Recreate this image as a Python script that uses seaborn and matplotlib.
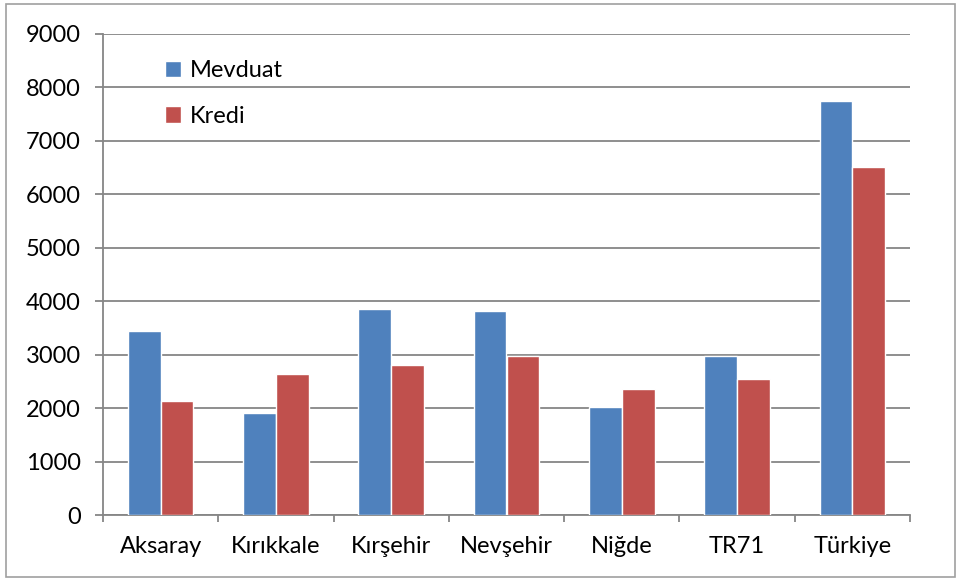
import pandas as pd
import numpy as np
import matplotlib.pyplot as plt
import seaborn as sns
from matplotlib.patches import Rectangle

# values
regions = ['Aksaray', 'Kırıkkale', 'Kırşehir', 'Nevşehir', 'Niğde', 'TR71', 'Türkiye']
mevduat = [3440, 1900, 3855, 3820, 2030, 2970, 7755]
kredi = [2130, 2635, 2800, 2975, 2355, 2540, 6510]
series = ['Mevduat', 'Kredi']
colors = ['#4F81BD', '#C0504D']

df = pd.DataFrame({
    'Bölge': regions * 2,
    'Seri': ['Mevduat'] * len(regions) + ['Kredi'] * len(regions),
    'Değer': mevduat + kredi,
})

sns.set_style("white")
plt.rcParams['font.family'] = ['Lato', 'DejaVu Sans']
plt.rcParams['text.color'] = 'black'
plt.rcParams['xtick.labelcolor'] = 'black'
plt.rcParams['ytick.labelcolor'] = 'black'

fig = plt.figure(figsize=(9.61, 5.80), dpi=100)
ax = fig.add_axes([103 / 961, 1 - 515 / 580, 807 / 961, 481 / 580])

sns.barplot(data=df, x='Bölge', y='Değer', hue='Seri', hue_order=series,
            palette=colors, width=0.57, gap=0, saturation=1, ax=ax, zorder=3)

gray = '#868686'
fs = 17
ax.set_ylim(0, 9000)
ax.set_yticks(np.arange(0, 9001, 1000))
ax.set_xlim(-0.5, len(regions) - 0.5)
ax.yaxis.grid(True, color=gray, linewidth=1.3, zorder=0)
ax.set_axisbelow(True)
for side in ['top', 'right']:
    ax.spines[side].set_visible(False)
for side in ['left', 'bottom']:
    ax.spines[side].set_color(gray)
    ax.spines[side].set_linewidth(1.3)

ax.tick_params(axis='y', direction='out', length=6, width=1.3, color=gray,
               labelsize=fs, pad=10, left=True)
ax.set_xticks(np.arange(-0.5, len(regions), 1), minor=True)
ax.tick_params(axis='x', which='minor', direction='out', length=5, width=1.3, color=gray, bottom=True)
ax.tick_params(axis='x', which='major', length=0, labelsize=fs, pad=15)
ax.set_xlabel('')
ax.set_ylabel('')

leg = ax.legend(loc='upper left', bbox_to_anchor=(0.05, 0.99), frameon=False,
                fontsize=fs, handlelength=0.7, handleheight=0.7, handletextpad=0.35,
                labelspacing=1.05)

fig.patches.append(Rectangle((6 / 961, 3 / 580), 949 / 961, 573 / 580, transform=fig.transFigure,
                             fill=False, edgecolor='#A0A0A0', linewidth=1.2))

plt.savefig('out.png', dpi=100)
